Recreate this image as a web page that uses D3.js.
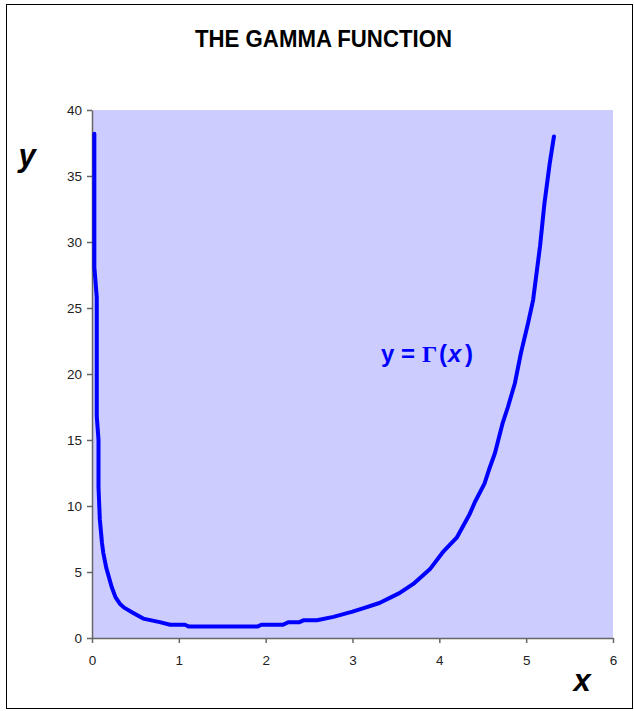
<!DOCTYPE html>
<html>
<head>
<meta charset="utf-8">
<script src="https://cdn.jsdelivr.net/npm/d3@7"></script>
<style>
  html, body { margin: 0; padding: 0; background: #fff; }
  svg { display: block; }
</style>
</head>
<body>
<svg id="chart" width="634" height="711"></svg>
<script>
// ---- data ----
const title = "THE GAMMA FUNCTION";
const xTicks = [0, 1, 2, 3, 4, 5, 6];
const yTicks = [0, 5, 10, 15, 20, 25, 30, 35, 40];
const xVals = [0.027, 0.027, 0.055, 0.055, 0.075, 0.075, 0.09, 0.115, 0.13, 0.165, 0.225, 0.27, 0.32, 0.37, 0.475, 0.59, 0.78, 0.9, 1.07, 1.11, 1.91, 1.95, 2.2, 2.26, 2.39, 2.44, 2.59, 2.78, 3.0, 3.12, 3.31, 3.54, 3.7, 3.89, 4.04, 4.2, 4.35, 4.41, 4.52, 4.58, 4.64, 4.73, 4.79, 4.87, 4.94, 5.02, 5.08, 5.16, 5.21, 5.27, 5.32];
const yVals = [38.2, 28.1, 25.8, 16.8, 15.0, 11.4, 9.0, 7.2, 6.45, 5.3, 3.9, 3.1, 2.6, 2.3, 1.9, 1.47, 1.2, 1.0, 1.0, 0.88, 0.88, 1.0, 1.0, 1.2, 1.2, 1.35, 1.35, 1.6, 2.0, 2.25, 2.65, 3.4, 4.1, 5.2, 6.5, 7.6, 9.4, 10.3, 11.7, 12.9, 14.0, 16.3, 17.5, 19.3, 21.6, 23.8, 25.6, 29.7, 32.9, 35.9, 38.0];

const svg = d3.select("#chart");

// outer border
svg.append("rect")
  .attr("x", 6.5).attr("y", 4.5)
  .attr("width", 626).attr("height", 704)
  .attr("fill", "#fff").attr("stroke", "#000").attr("stroke-width", 1);

const x = d3.scaleLinear().domain([0, 6]).range([92, 613]);
const y = d3.scaleLinear().domain([0, 40]).range([638, 110]);

// plot area
svg.append("rect")
  .attr("x", x(0)).attr("y", y(40))
  .attr("width", x(6) - x(0)).attr("height", y(0) - y(40))
  .attr("fill", "#CCCCFF");

// title
svg.append("text")
  .attr("x", 195).attr("y", 46.5)
  .attr("textLength", 257).attr("lengthAdjust", "spacingAndGlyphs")
  .attr("font-family", "Liberation Sans, Arial, sans-serif")
  .attr("font-weight", "bold").attr("font-size", 24.5)
  .attr("fill", "#000")
  .text(title);

// axes
const xAxis = d3.axisBottom(x).tickValues(xTicks).tickSize(5).tickSizeOuter(0).tickPadding(12).tickFormat(d3.format("d"));
const yAxis = d3.axisLeft(y).tickValues(yTicks).tickSize(5).tickSizeOuter(0).tickPadding(5).tickFormat(d3.format("d"));

const gx = svg.append("g").attr("transform", `translate(0,${y(0)})`).call(xAxis);
const gy = svg.append("g").attr("transform", `translate(${x(0)},0)`).call(yAxis);

[gx, gy].forEach(g => {
  g.select(".domain").attr("stroke", "#666").attr("stroke-width", 1.5);
  g.selectAll(".tick line").attr("stroke", "#666").attr("stroke-width", 1.5);
  g.selectAll(".tick text")
    .attr("font-family", "Liberation Sans, Arial, sans-serif")
    .attr("font-size", 13.5).attr("fill", "#222");
});

// curve
const pts = xVals.map((v, i) => [v, yVals[i]]);
const line = d3.line().x(d => x(d[0])).y(d => y(d[1])).curve(d3.curveLinear);
svg.append("path")
  .attr("d", line(pts))
  .attr("fill", "none").attr("stroke", "#0000FF")
  .attr("stroke-width", 4).attr("stroke-linejoin", "round").attr("stroke-linecap", "round");

// axis titles
svg.append("text")
  .attr("x", 27).attr("y", 166).attr("text-anchor", "middle")
  .attr("font-family", "Liberation Sans, Arial, sans-serif")
  .attr("font-weight", "bold").attr("font-style", "italic").attr("font-size", 31)
  .attr("fill", "#000").text("y");
svg.append("text")
  .attr("x", 582).attr("y", 691).attr("text-anchor", "middle")
  .attr("font-family", "Liberation Sans, Arial, sans-serif")
  .attr("font-weight", "bold").attr("font-style", "italic").attr("font-size", 31)
  .attr("fill", "#000").text("x");

// curve label
const lab = svg.append("text")
  .attr("y", 362)
  .attr("font-family", "Liberation Sans, Arial, sans-serif")
  .attr("font-weight", "bold").attr("font-size", 24)
  .attr("fill", "#0000FF");
lab.append("tspan").attr("x", 381).text("y");
lab.append("tspan").attr("x", 401).text("=");
lab.append("tspan").attr("x", 422).attr("font-family", "Liberation Serif, Times New Roman, serif").attr("font-size", 24).text("Γ");
lab.append("tspan").attr("x", 439).text("(");
lab.append("tspan").attr("x", 448).attr("font-style", "italic").text("x");
lab.append("tspan").attr("x", 465).text(")");
</script>
</body>
</html>
